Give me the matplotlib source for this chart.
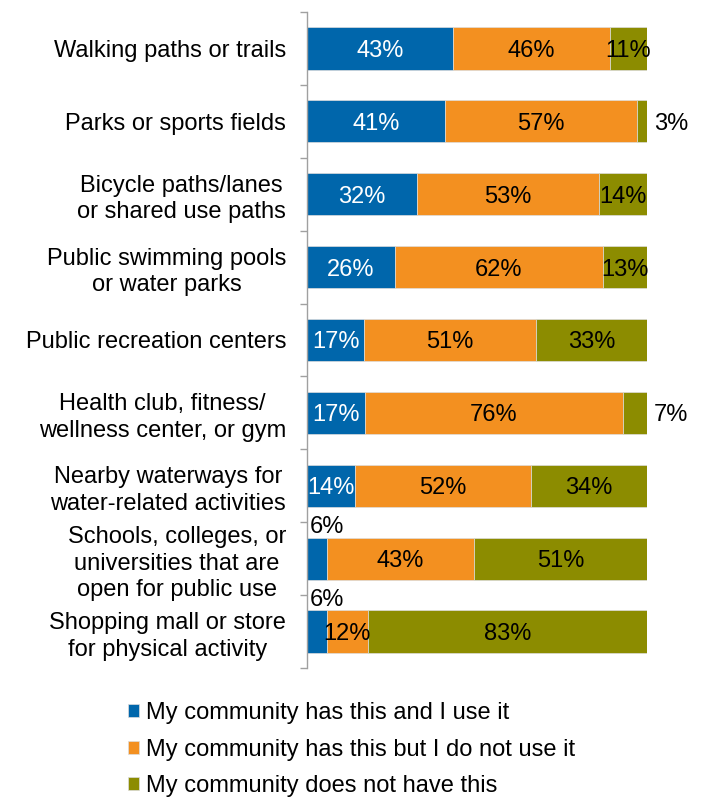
import matplotlib
matplotlib.use("Agg")
import matplotlib.pyplot as plt
import numpy as np

plt.rcParams['font.family'] = ['Liberation Sans', 'DejaVu Sans']

categories = [
    "Walking paths or trails",
    "Parks or sports fields",
    "Bicycle paths/lanes\nor shared use paths",
    "Public swimming pools\nor water parks",
    "Public recreation centers",
    "Health club, fitness/\nwellness center, or gym",
    "Nearby waterways for\nwater-related activities",
    "Schools, colleges, or\nuniversities that are\nopen for public use",
    "Shopping mall or store\nfor physical activity",
]
use_it = [43, 41, 32, 26, 17, 17, 14, 6, 6]
not_use = [46, 57, 53, 62, 51, 76, 52, 43, 12]
not_have = [11, 3, 14, 13, 33, 7, 34, 51, 83]
series_names = [
    "My community has this and I use it",
    "My community has this but I do not use it",
    "My community does not have this",
]
colors = ["#0066AB", "#F39020", "#8C8C00"]
text_colors = ["white", "black", "black"]

FS = 17

fig = plt.figure(figsize=(7.04, 8.05), dpi=100)
ax = fig.add_axes([307/704, 1 - 668/805, 340/704, 656/805])

data = np.array([use_it, not_use, not_have], dtype=float)
totals = data.sum(axis=0)
widths = data / totals * 100
n = len(categories)
y = np.arange(n)

left = np.zeros(n)
for s in range(3):
    ax.barh(y, widths[s], left=left, height=0.58, color=colors[s],
            edgecolor="#dddddd", linewidth=0.5, label=series_names[s])
    for i in range(n):
        v = int(data[s, i])
        txt = f"{v}%"
        if v <= 7 and s == 0:
            ax.annotate(txt, xy=(0, i - 0.43), xytext=(2, 0), textcoords="offset points",
                        ha="left", va="center", fontsize=FS, color="black")
        elif v <= 7 and s == 2:
            ax.annotate(txt, xy=(100, i), xytext=(5, 0), textcoords="offset points",
                        ha="left", va="center_baseline", fontsize=FS, color="black")
        else:
            ax.text(left[i] + widths[s, i] / 2, i, txt, ha="center", va="center_baseline",
                    fontsize=FS, color=text_colors[s])
    left = left + widths[s]

ax.set_xlim(0, 100)
ax.set_ylim(n - 0.5, -0.5)
ax.set_yticks(y)
ax.set_yticklabels(categories, fontsize=FS, multialignment="center", linespacing=1.28)
ax.tick_params(axis="y", which="major", length=0, pad=15)
ax.set_yticks(np.arange(-0.5, n, 1), minor=True)
ax.tick_params(axis="y", which="minor", length=5, color="#a0a0a0", width=1)
ax.set_xticks([])
for sp in ["top", "right", "bottom"]:
    ax.spines[sp].set_visible(False)
ax.spines["left"].set_color("#a0a0a0")
ax.spines["left"].set_linewidth(1)

fig.legend(loc="upper left", bbox_to_anchor=(128/704, 1 - 702/805), frameon=False,
           fontsize=FS, handlelength=0.48, handleheight=0.48, handletextpad=0.3,
           labelspacing=0.62, borderpad=0, borderaxespad=0)

fig.savefig("out.png", dpi=100)
